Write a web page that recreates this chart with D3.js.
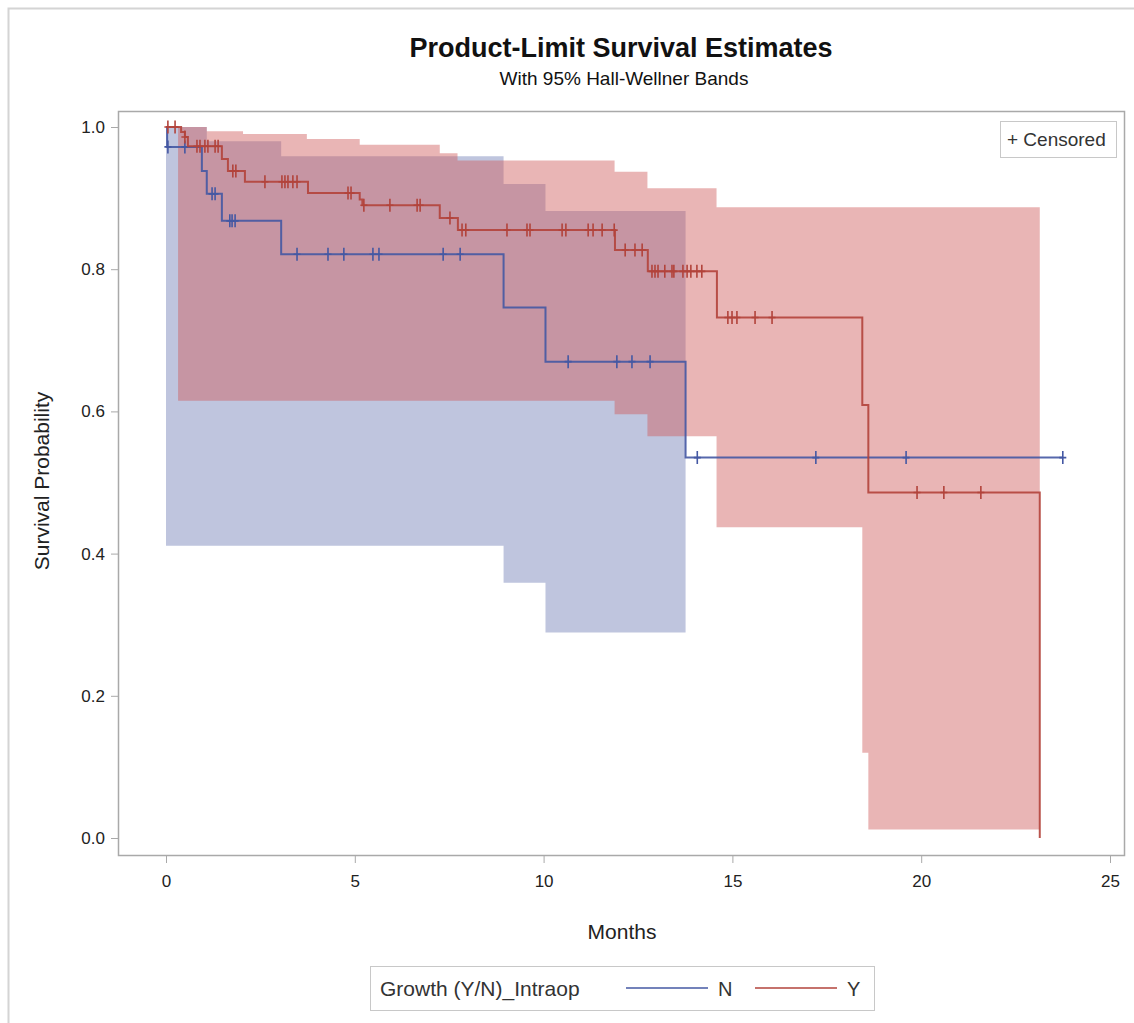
<!DOCTYPE html>
<html>
<head>
<meta charset="utf-8">
<script src="https://cdn.jsdelivr.net/npm/d3@7"></script>
<style>
  html, body { margin: 0; padding: 0; background: #fff; }
  svg { display: block; }
  text { font-family: "Liberation Sans", Arial, sans-serif; fill: #222; }
</style>
</head>
<body>
<svg id="chart" width="1134" height="1023"></svg>
<script>
// ---------------- data ----------------
const xTicks = [0, 5, 10, 15, 20, 25];
const yTicks = [0.0, 0.2, 0.4, 0.6, 0.8, 1.0];
const groups = ["N", "Y"];
const legendTitle = "Growth (Y/N)_Intraop";

// Group N (no growth) Kaplan-Meier steps
const nStepTimes = [0, 0.03, 0.95, 1.08, 1.48, 3.05, 8.94, 10.05, 13.76];
const nStepSurv  = [1.0, 0.972, 0.938, 0.906, 0.868, 0.821, 0.746, 0.670, 0.535];
const nEndTime = 23.75;
const nCensorTimes = [0.05, 0.50, 1.22, 1.30, 1.69, 1.75, 1.83, 3.47, 4.29, 4.71, 5.48, 5.64,
  7.34, 7.79, 10.65, 11.94, 12.34, 12.82, 14.07, 17.21, 19.60, 23.75];
// Hall-Wellner band for N
const nBandTimes = [0, 1.08, 3.05, 8.94, 10.05, 13.76];
const nUpper = [1.0, 0.980, 0.959, 0.920, 0.882];
const nLower = [0.411, 0.411, 0.411, 0.359, 0.289];

// Group Y (growth) Kaplan-Meier steps
const yStepTimes = [0, 0.40, 0.50, 0.58, 1.48, 1.64, 2.09, 3.76, 5.13, 5.20, 7.25, 7.73,
  11.89, 12.76, 14.59, 18.44, 18.60, 23.14];
const yStepSurv  = [1.0, 0.993, 0.986, 0.973, 0.955, 0.938, 0.923, 0.907, 0.898, 0.890, 0.872, 0.855,
  0.827, 0.797, 0.732, 0.609, 0.486, 0.0];
const yEndTime = 23.14;
const yCensorTimes = [0.05, 0.24, 0.50, 0.82, 0.90, 1.03, 1.11, 1.30, 1.38, 1.77, 1.85, 2.62,
  3.07, 3.15, 3.23, 3.36, 3.47, 4.82, 4.90, 5.24, 5.93, 6.65, 6.73, 7.52, 7.84, 7.94,
  9.03, 9.56, 9.64, 10.49, 10.59, 11.18, 11.31, 11.55, 11.87, 12.16, 12.42, 12.61,
  12.87, 12.95, 13.03, 13.21, 13.40, 13.45, 13.69, 13.80, 13.90, 14.06, 14.19,
  14.88, 14.99, 15.12, 15.60, 16.05, 19.89, 20.60, 21.58];
// Hall-Wellner band for Y
const yBandTimes = [0.32, 1.08, 2.04, 3.73, 5.13, 7.25, 7.72, 11.88, 12.75, 14.58, 18.44, 18.60, 23.14];
const yUpper = [1.0, 0.994, 0.990, 0.983, 0.975, 0.963, 0.953, 0.937, 0.914, 0.887, 0.887, 0.887];
const yLower = [0.615, 0.615, 0.615, 0.615, 0.615, 0.615, 0.615, 0.596, 0.565, 0.437, 0.120, 0.012];

// ---------------- layout ----------------
const svg = d3.select("#chart");
const frame = { left: 118, right: 1124, top: 111, bottom: 855 };
const x = d3.scaleLinear().domain([0, 25]).range([166, 1110]);
const y = d3.scaleLinear().domain([0, 1]).range([838, 127]);

const colors = {
  N: { line: "#4458a3", band: "#bfc5de", bandOpacity: 1 },
  Y: { line: "#b2433b", band: "rgb(206,91,91)", bandOpacity: 0.45 }
};

// outer border
svg.append("rect").attr("x", 8.5).attr("y", 8.5).attr("width", 1200).attr("height", 1200)
  .attr("fill", "none").attr("stroke", "#d4d4d4").attr("stroke-width", 2);

// title
svg.append("text").attr("x", 621).attr("y", 57).attr("text-anchor", "middle")
  .style("font-size", "27px").style("font-weight", "bold").style("fill", "#111")
  .text("Product-Limit Survival Estimates");
svg.append("text").attr("x", 624).attr("y", 85).attr("text-anchor", "middle")
  .style("font-size", "19px").style("fill", "#111")
  .text("With 95% Hall-Wellner Bands");

// helpers
function stepPoints(times, surv, endTime) {
  const pts = times.map((t, i) => [t, surv[i]]);
  const last = pts[pts.length - 1];
  if (endTime > last[0]) pts.push([endTime, last[1]]);
  return pts;
}
function bandPoints(times, up, lo) {
  const pts = up.map((u, i) => ({ t: times[i], u: u, l: lo[i] }));
  pts.push({ t: times[times.length - 1], u: up[up.length - 1], l: lo[lo.length - 1] });
  return pts;
}
function survAt(times, surv, t) {
  let v = surv[0];
  for (let i = 0; i < times.length; i++) if (times[i] <= t) v = surv[i];
  return v;
}

const plot = svg.append("g");
const area = d3.area().curve(d3.curveStepAfter)
  .x(d => x(d.t)).y0(d => y(d.l)).y1(d => y(d.u));
const line = d3.line().curve(d3.curveStepAfter).x(d => x(d[0])).y(d => y(d[1]));

const series = {
  N: { band: bandPoints(nBandTimes, nUpper, nLower), steps: stepPoints(nStepTimes, nStepSurv, nEndTime),
       censor: nCensorTimes.map(t => [t, survAt(nStepTimes, nStepSurv, t)]) },
  Y: { band: bandPoints(yBandTimes, yUpper, yLower), steps: stepPoints(yStepTimes, yStepSurv, yEndTime),
       censor: yCensorTimes.map(t => [t, survAt(yStepTimes, yStepSurv, t)]) }
};

groups.forEach(g => {
  plot.append("path").attr("d", area(series[g].band))
    .attr("fill", colors[g].band).attr("fill-opacity", colors[g].bandOpacity);
});
groups.forEach(g => {
  plot.append("path").attr("d", line(series[g].steps))
    .attr("fill", "none").attr("stroke", colors[g].line).attr("stroke-width", 2)
    .attr("stroke-opacity", 0.9);
  plot.append("g").selectAll("path").data(series[g].censor).join("path")
    .attr("d", d => `M${x(d[0])},${y(d[1]) - 6.5}V${y(d[1]) + 6.5}M${x(d[0]) - 3.5},${y(d[1])}H${x(d[0]) + 3.5}`)
    .attr("stroke", colors[g].line).attr("stroke-width", 1.6).attr("fill", "none");
});

// frame
svg.append("rect").attr("x", frame.left + 0.5).attr("y", frame.top + 0.5)
  .attr("width", frame.right - frame.left).attr("height", frame.bottom - frame.top)
  .attr("fill", "none").attr("stroke", "#a9a9a9").attr("stroke-width", 1.5);

// axes
const xAxis = d3.axisBottom(x).tickValues(xTicks).tickSize(7).tickPadding(12).tickFormat(d3.format("d"));
const gx = svg.append("g").attr("transform", `translate(0,${frame.bottom + 1})`).call(xAxis);
gx.select(".domain").remove();
gx.selectAll("line").attr("stroke", "#a9a9a9");
gx.selectAll("text").style("font-size", "17px").style("fill", "#222")
  .style("font-family", "'Liberation Sans',Arial,sans-serif");

const yAxis = d3.axisLeft(y).tickValues(yTicks).tickSize(7).tickPadding(6).tickFormat(d3.format(".1f"));
const gy = svg.append("g").attr("transform", `translate(${frame.left},0)`).call(yAxis);
gy.select(".domain").remove();
gy.selectAll("line").attr("stroke", "#a9a9a9");
gy.selectAll("text").style("font-size", "17px").style("fill", "#222")
  .style("font-family", "'Liberation Sans',Arial,sans-serif");

// axis labels
svg.append("text").attr("x", 622).attr("y", 939).attr("text-anchor", "middle")
  .style("font-size", "21px").text("Months");
svg.append("text").attr("transform", "translate(49,481) rotate(-90)").attr("text-anchor", "middle")
  .style("font-size", "21px").text("Survival Probability");

// censored legend
svg.append("rect").attr("x", 1000.5).attr("y", 121.5).attr("width", 116).attr("height", 36)
  .attr("fill", "#fff").attr("stroke", "#c8c8c8");
svg.append("text").attr("x", 1007).attr("y", 146).style("font-size", "19px").style("fill", "#333")
  .text("+ Censored");

// group legend
const lg = svg.append("g");
lg.append("rect").attr("x", 370.5).attr("y", 966.5).attr("width", 504).attr("height", 44)
  .attr("fill", "#fff").attr("stroke", "#c8c8c8");
lg.append("text").attr("x", 380).attr("y", 996).style("font-size", "21px").style("fill", "#333").text(legendTitle);
const legendX = { N: 626, Y: 755 };
groups.forEach(g => {
  lg.append("line").attr("x1", legendX[g]).attr("x2", legendX[g] + 82).attr("y1", 988).attr("y2", 988)
    .attr("stroke", colors[g].line).attr("stroke-width", 2.2).attr("stroke-opacity", 0.75);
  lg.append("text").attr("x", legendX[g] + 92).attr("y", 996).style("font-size", "20px").style("fill", "#333").text(g);
});
</script>
</body>
</html>
